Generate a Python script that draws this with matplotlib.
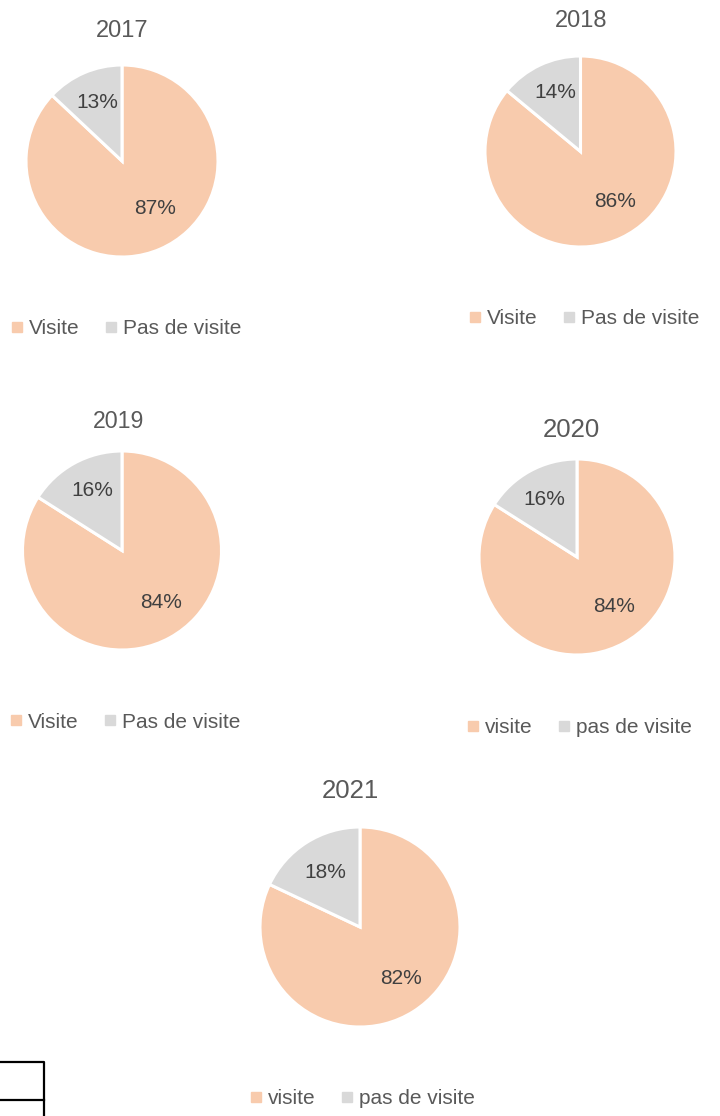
import matplotlib
matplotlib.use('Agg')
import matplotlib.pyplot as plt
from matplotlib.lines import Line2D

plt.rcParams['font.family'] = ['Liberation Sans', 'DejaVu Sans']

years = ['2017', '2018', '2019', '2020', '2021']
visite = [87, 86, 84, 84, 82]
pas_visite = [13, 14, 16, 16, 18]
legend_labels = [['Visite', 'Pas de visite'], ['Visite', 'Pas de visite'],
                 ['Visite', 'Pas de visite'], ['visite', 'pas de visite'],
                 ['visite', 'pas de visite']]

colors = ['#F8CBAD', '#D9D9D9']
txt = '#595959'
W, H = 720, 1116

# mise en page (pixels) : centre du camembert, rayon, titre, légende
pie_c = [(122, 161, 96), (580.5, 151.5, 95.5), (122, 550.5, 99.5), (577, 557, 98), (360, 927, 100)]
title_pos = [(122, 37.3, 17), (581, 26.7, 17), (118.5, 428, 16.7), (571.5, 437, 18.5), (350.5, 798, 18.5)]
leg_pos = [(10.5, 329), (469, 318.5), (9.5, 722), (466.5, 727.5), (250, 1099)]
lab_pos = [[(0.34, -0.50), (-0.26, 0.61)],
           [(0.36, -0.52), (-0.26, 0.62)],
           [(0.39, -0.52), (-0.30, 0.60)],
           [(0.38, -0.51), (-0.33, 0.59)],
           [(0.41, -0.51), (-0.35, 0.55)]]

fig = plt.figure(figsize=(W / 100, H / 100), dpi=100)

for i, year in enumerate(years):
    cx, cy, r = pie_c[i]
    ax = fig.add_axes([(cx - r) / W, 1 - (cy + r) / H, 2 * r / W, 2 * r / H])
    vals = [visite[i], pas_visite[i]]
    ax.pie(vals, colors=colors, startangle=90, counterclock=False,
           wedgeprops=dict(edgecolor='white', linewidth=2.2))
    ax.set_xlim(-1, 1)
    ax.set_ylim(-1, 1)
    ax.set_axis_off()
    for v, (lx, ly) in zip(vals, lab_pos[i]):
        ax.text(lx, ly, f'{v}%', ha='center', va='center', fontsize=15, color='#404040')

    tx, ty, fs = title_pos[i]
    fig.text(tx / W, 1 - ty / H, year, ha='center', va='baseline', fontsize=fs, color=txt)

    handles = [Line2D([], [], marker='s', linestyle='none', markersize=6.5,
                      markerfacecolor=c, markeredgecolor=c) for c in colors]
    lx, ly = leg_pos[i]
    fig.legend(handles, legend_labels[i], loc='center left',
               bbox_to_anchor=(lx / W, 1 - ly / H), ncol=2, frameon=False,
               fontsize=15, labelcolor=txt, handlelength=0.6, handletextpad=0.28,
               columnspacing=1.2, borderpad=0, borderaxespad=0)

# cadre coupé en bas à gauche
fig.add_artist(Line2D([0, 43.5 / W, 43.5 / W], [1 - 1061.7 / H, 1 - 1061.7 / H, 0],
                      color='black', linewidth=1.6))
fig.add_artist(Line2D([0, 43.5 / W], [1 - 1100 / H, 1 - 1100 / H], color='black', linewidth=1.6))

fig.savefig('out.png', dpi=100)
